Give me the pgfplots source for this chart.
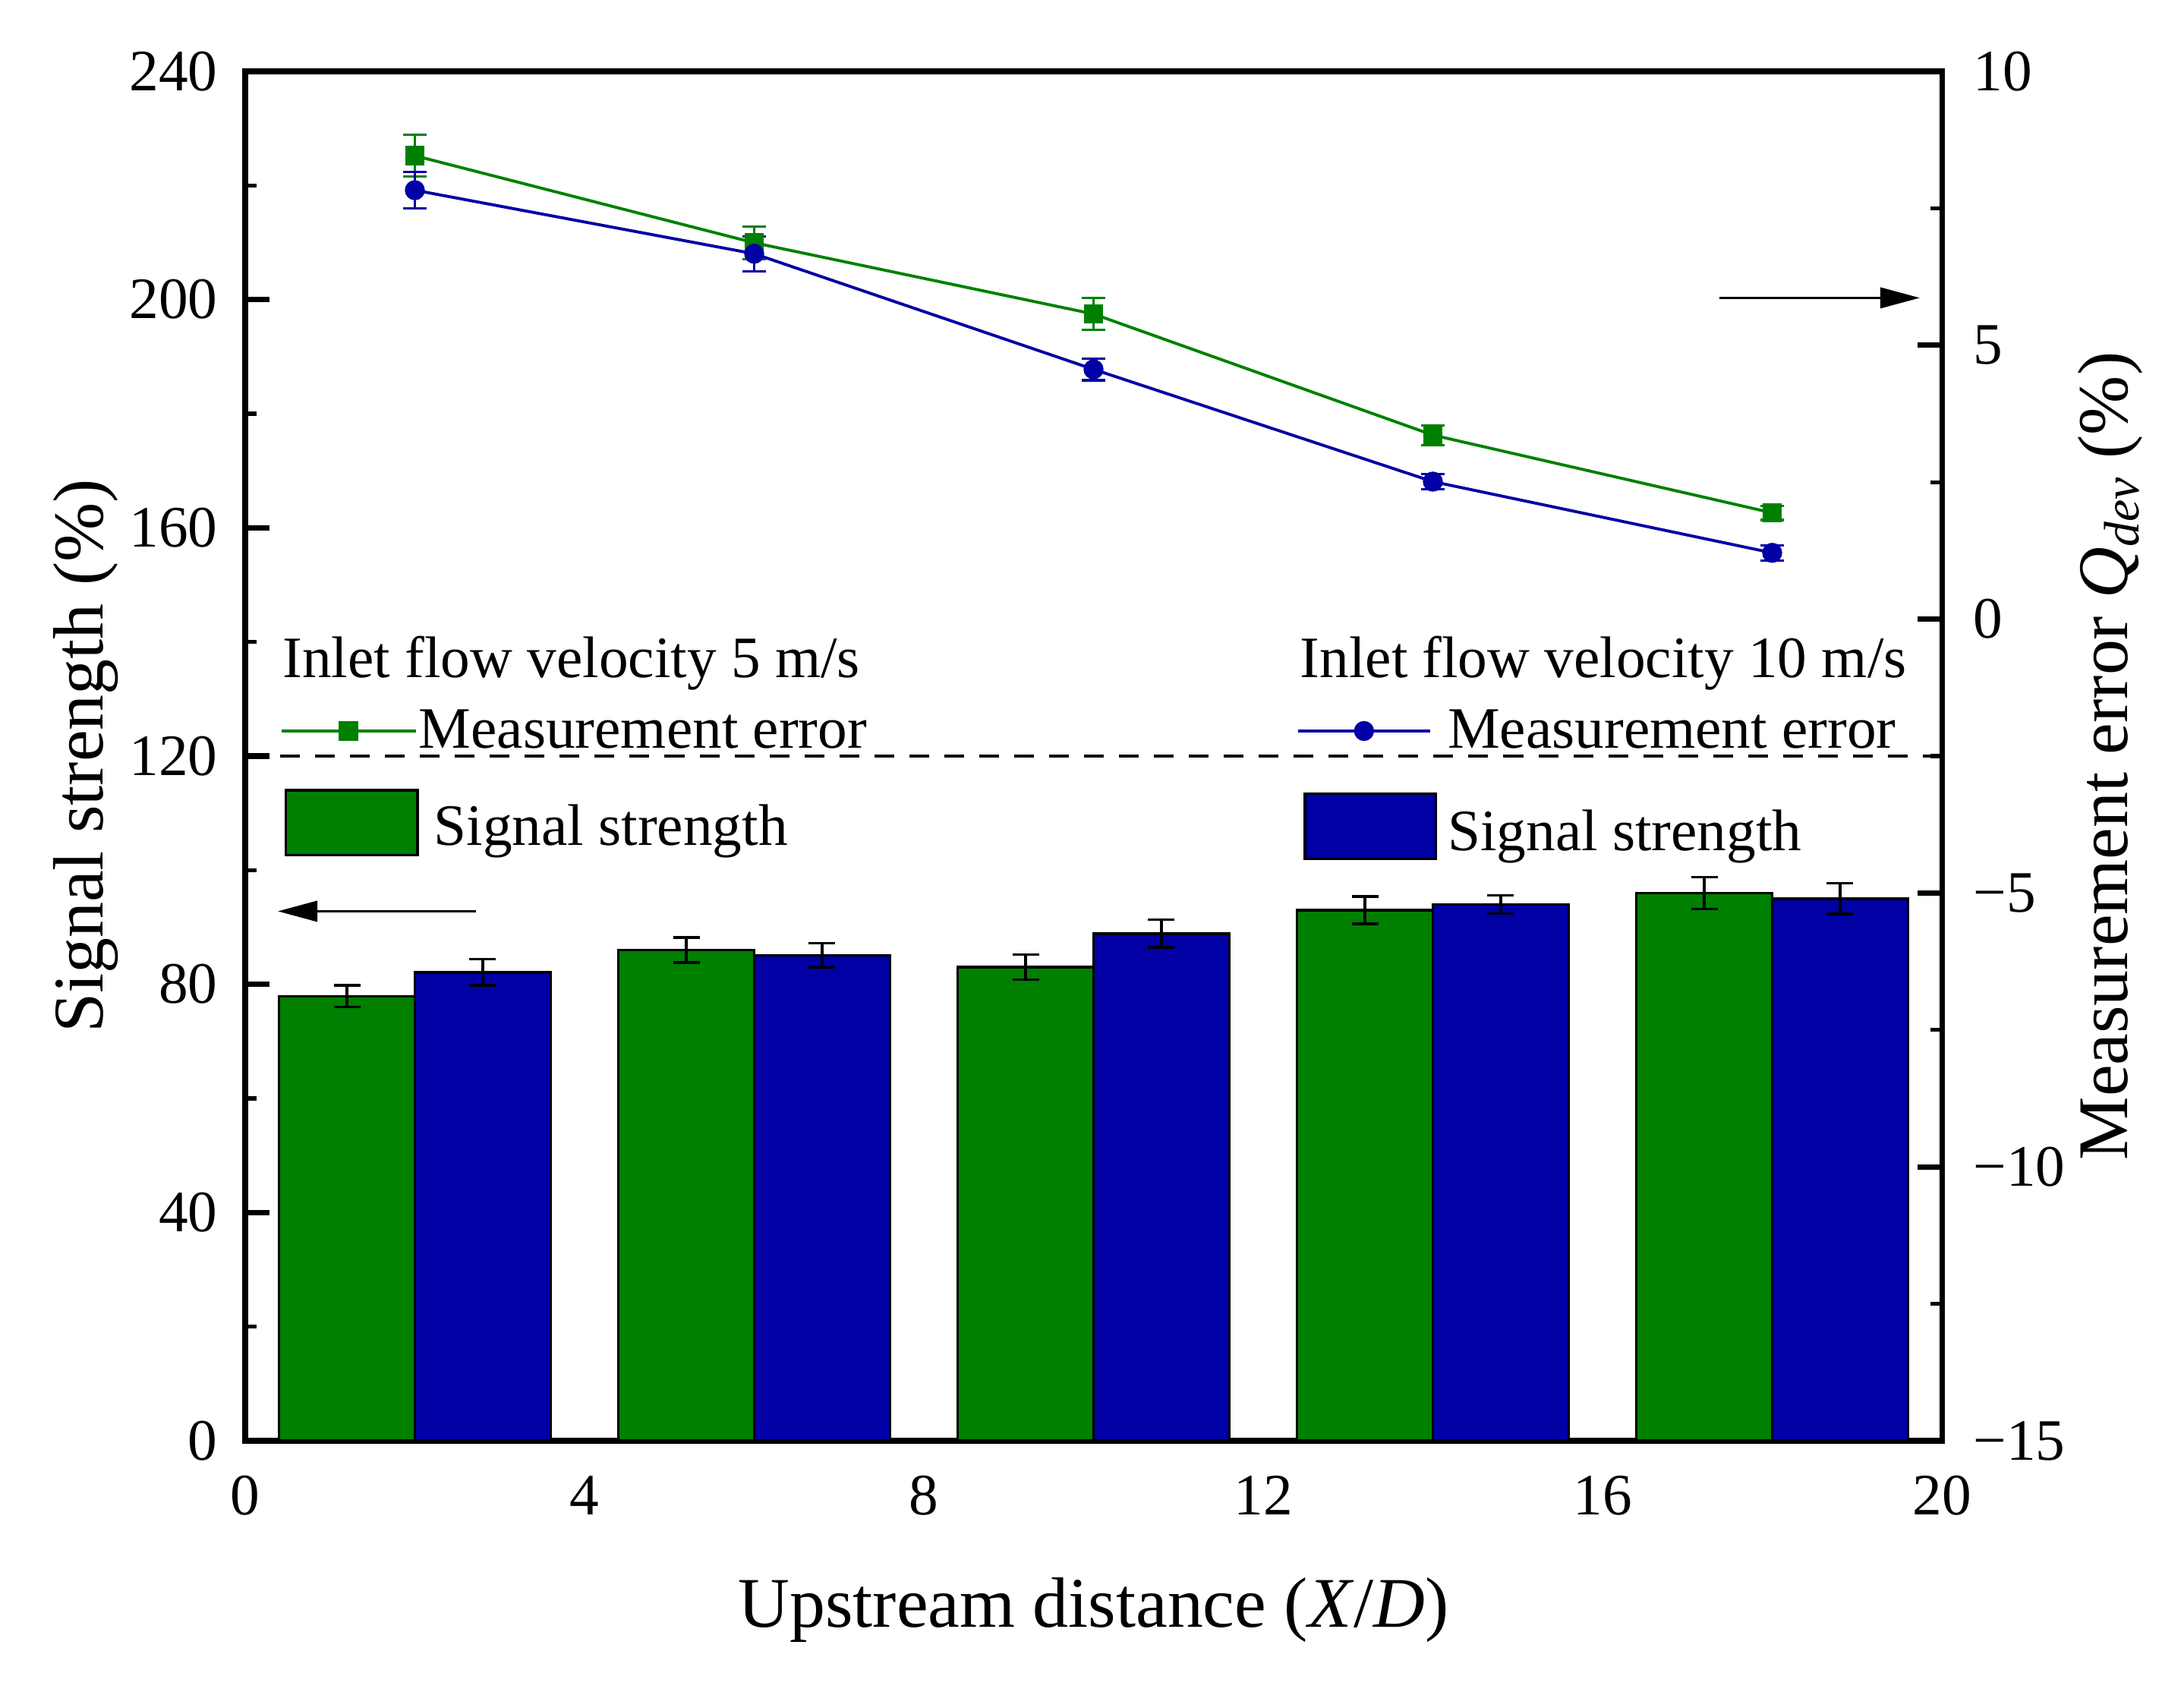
\documentclass[border=0pt]{standalone}
\usepackage{fontspec}
\setmainfont{Liberation Serif}
\usepackage{pgfplots}
\pgfplotsset{compat=1.18}
\usetikzlibrary{arrows.meta}
\definecolor{mygreen}{RGB}{0,128,0}
\definecolor{myblue}{RGB}{0,0,165}
\newcommand{\tickfont}{\fontsize{22}{26}\selectfont}
\newcommand{\labfont}{\fontsize{26.7}{32}\selectfont}
\pgfplotsset{
  common/.style={
    at={(3.23cm,3.27cm)}, anchor=south west,
    scale only axis, width=22.35cm, height=18.04cm,
    xmin=0, xmax=20,
    tick align=inside,
    major tick length=0.32cm, minor tick length=0.15cm,
    every major tick/.append style={black, line width=2pt},
    every minor tick/.append style={black, line width=1.5pt},
    axis line style={-, line width=2pt},
    /pgf/number format/assume math mode=true,
    ticklabel style={font=\tickfont},
    legend cell align=left,
    clip=false,
  },
  lineleggreen/.style={legend image code/.code={\draw[mark repeat=2, mark phase=2, ##1] plot coordinates {(0cm,0cm) (0.883cm,0cm) (1.767cm,0cm)};}},
  linelegblue/.style={legend image code/.code={\draw[mark repeat=2, mark phase=2, ##1] plot coordinates {(0cm,0cm) (0.873cm,0cm) (1.745cm,0cm)};}},
}
\begin{document}
\begin{tikzpicture}
\useasboundingbox (0,0) rectangle (28.77,22.25);
% ---------- left axis: bars ----------
\begin{axis}[common,
  ymin=0, ymax=240,
  xtick={0,4,...,20}, xtick pos=bottom,
  xtick style={draw=none},
  ytick={0,40,...,240}, minor ytick={20,60,...,220}, ytick pos=left,
  yticklabel style={xshift=-0.24cm},
  xticklabel style={yshift=-0.34cm},
  xlabel={Upstream distance (\textit{X}/\textit{D})},
  xlabel style={font=\labfont, at={(axis description cs:0.5,0)}, anchor=base, yshift=-2.45cm},
  ylabel={Signal strength (\%)},
  ylabel style={font=\labfont, at={(axis description cs:0,0.5)}, anchor=base, yshift=1.87cm},
  legend style={at={(0.02058,0.5338)}, anchor=north west, draw=none, fill=none,
    inner sep=0pt, outer sep=0pt, row sep=0.483cm, column sep=0cm,
    font=\tickfont, nodes={inner sep=0pt, outer sep=0pt}},
]
\addplot[forget plot, black, line width=1pt, dash pattern=on 7.4pt off 5.7pt]
  coordinates {(0,120) (20,120)};
\addplot[forget plot, ybar, bar width=1.6, bar shift=0pt, fill=mygreen, draw=black, line width=1pt,
  error bars/.cd, y dir=both, y explicit,
  error bar style={black, line width=1pt},
  error mark options={rotate=90, black, line width=1pt, mark size=5pt}]
  coordinates {
  (1.2,77.9) +- (0,1.9)
  (5.2,86.0) +- (0,2.2)
  (9.2,83.0) +- (0,2.2)
  (13.2,93.0) +- (0,2.4)
  (17.2,96.0) +- (0,2.8)
  };
\addplot[forget plot, ybar, bar width=1.6, bar shift=0pt, fill=myblue, draw=black, line width=1pt,
  error bars/.cd, y dir=both, y explicit,
  error bar style={black, line width=1pt},
  error mark options={rotate=90, black, line width=1pt, mark size=5pt}]
  coordinates {
  (2.8,82.1) +- (0,2.3)
  (6.8,85.1) +- (0,2.1)
  (10.8,88.9) +- (0,2.4)
  (14.8,94.0) +- (0,1.6)
  (18.8,95.0) +- (0,2.7)
  };
\addlegendimage{mygreen, line width=1.1pt, mark=square*, mark size=3.1pt, lineleggreen}
\addlegendentry{Measurement error}
\addlegendimage{legend image code/.code={\draw[fill=mygreen, draw=black, line width=1pt] (0.056cm,-0.37cm) rectangle (1.79cm,0.487cm);}}
\addlegendentry{\hspace*{0.2cm}Signal strength}
\node[anchor=base west, inner sep=0pt, font=\tickfont] at (axis cs:0.437,133.8) {Inlet flow velocity 5 m/s};
\node[anchor=base west, inner sep=0pt, font=\tickfont] at (axis cs:12.43,133.8) {Inlet flow velocity 10 m/s};
\draw[line width=1pt, -{Triangle[length=14.8pt, width=7.7pt]}] (axis cs:2.72,92.8) -- (axis cs:0.385,92.8);
\draw[line width=1pt, -{Triangle[length=14.8pt, width=7.7pt]}] (axis cs:17.38,200.3) -- (axis cs:19.74,200.3);
\end{axis}
% ---------- right axis: lines ----------
\begin{axis}[common,
  ymin=-15, ymax=10,
  axis x line=none, axis y line*=right,
  ytick={-15,-10,-5,0,5,10}, yticklabels={−15,−10,−5,0,5,10},
  minor ytick={-12.5,-7.5,-2.5,2.5,7.5},
  yticklabel style={xshift=0.29cm},
  ylabel={Measurement error \textit{Q}\textsubscript{\textit{dev}} (\%)},
  ylabel style={font=\labfont, at={(axis description cs:1,0.5)}, anchor=base, yshift=-2.44cm},
  legend style={at={(0.6195,0.5338)}, anchor=north west, draw=none, fill=none,
    inner sep=0pt, outer sep=0pt, row sep=0.53cm, column sep=0.14cm,
    font=\tickfont, nodes={inner sep=0pt, outer sep=0pt}},
]
\addplot[forget plot, mygreen, line width=1.1pt, mark=square*, mark size=3.1pt,
  error bars/.cd, y dir=both, y explicit,
  error bar style={mygreen, line width=0.9pt},
  error mark options={rotate=90, mygreen, line width=0.9pt, mark size=4.5pt}]
  coordinates {
  (2,8.46) +- (0,0.38)
  (6,6.87) +- (0,0.30)
  (10,5.57) +- (0,0.29)
  (14,3.36) +- (0,0.18)
  (18,1.94) +- (0,0.13)
  };
\addplot[forget plot, myblue, line width=1.1pt, mark=*, mark size=3.2pt,
  error bars/.cd, y dir=both, y explicit,
  error bar style={myblue, line width=0.9pt},
  error mark options={rotate=90, myblue, line width=0.9pt, mark size=4.5pt}]
  coordinates {
  (2,7.83) +- (0,0.33)
  (6,6.67) +- (0,0.32)
  (10,4.56) +- (0,0.20)
  (14,2.51) +- (0,0.14)
  (18,1.21) +- (0,0.14)
  };
\addlegendimage{myblue, line width=1.1pt, mark=*, mark size=3.2pt, linelegblue}
\addlegendentry{Measurement error}
\addlegendimage{legend image code/.code={\draw[fill=myblue, draw=black, line width=1pt] (0.094cm,-0.353cm) rectangle (1.819cm,0.507cm);}}
\addlegendentry{Signal strength}
\end{axis}
\end{tikzpicture}
\end{document}
